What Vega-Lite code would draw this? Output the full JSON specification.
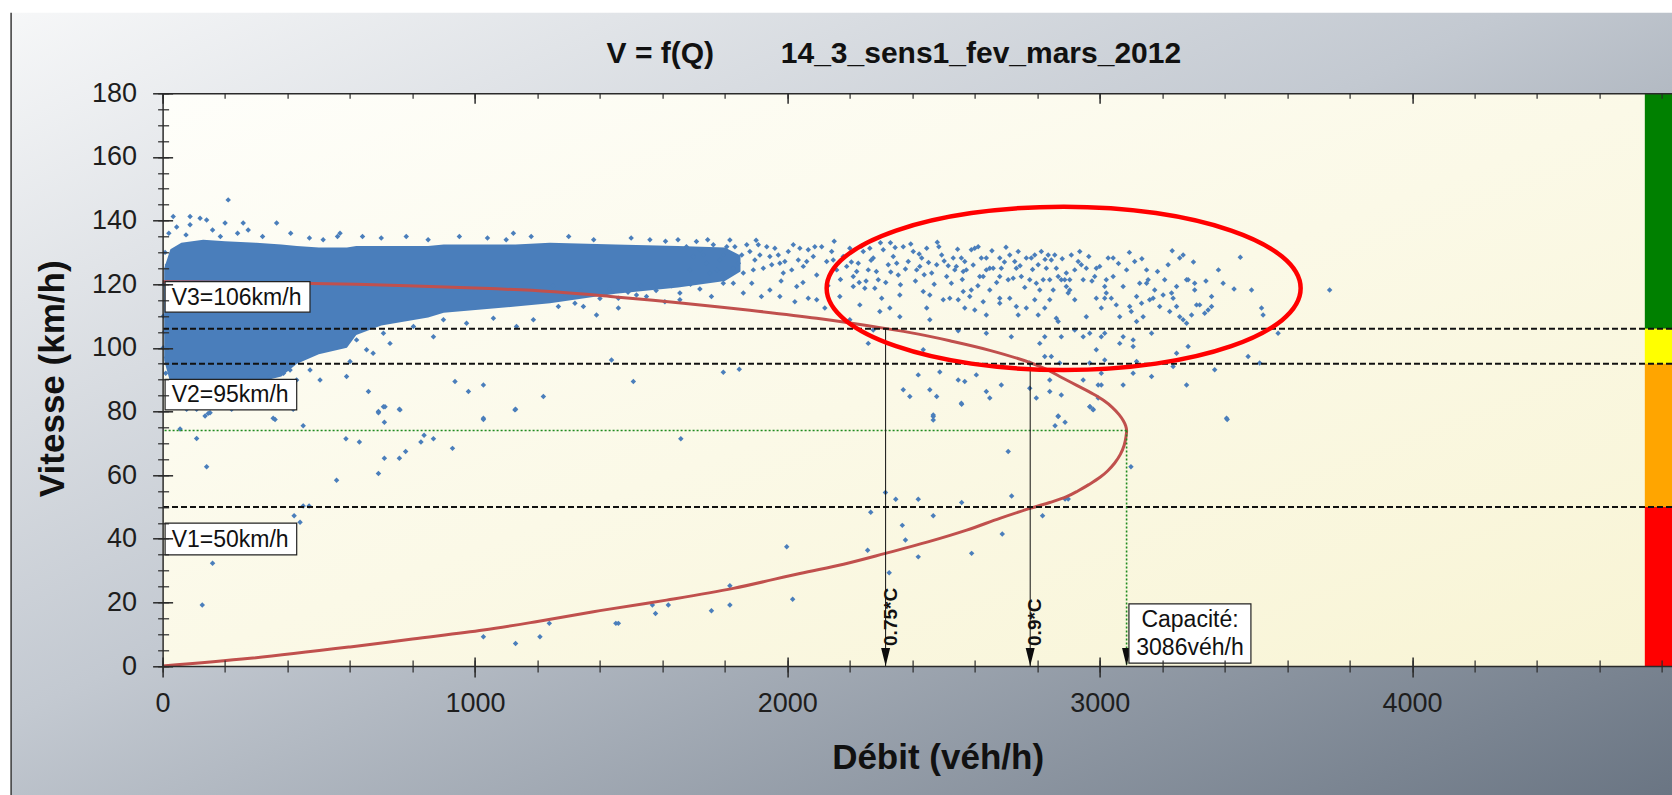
{
"$schema":"https://vega.github.io/schema/vega-lite/v6.json",
"width":1509.4,"height":572.7,
"autosize":{"type":"none"},
"padding":{"left":162.6,"top":93.3,"right":0,"bottom":129},
"config":{"background":"white","view":{"stroke":null},"font":"Liberation Sans",
"axis":{"zindex":1,"grid":false,"labelFont":"Liberation Sans","titleFont":"Liberation Sans","tickColor":"#2a2a2a","domainColor":"#2a2a2a","labelColor":"#1e1e1e","titleColor":"#111111","labelFlush":false,"labelOverlap":false}},
"resolve":{"axis":{"x":"independent","y":"independent"}},
"datasets":{
"core":[{"q":5,"lo":96,"hi":125},{"q":25,"lo":89,"hi":131},{"q":60,"lo":88,"hi":133},{"q":130,"lo":88,"hi":134},{"q":200,"lo":89,"hi":133.5},{"q":300,"lo":89,"hi":133},{"q":380,"lo":91,"hi":132.5},{"q":430,"lo":95,"hi":132},{"q":500,"lo":98,"hi":131.5},{"q":590,"lo":100,"hi":131.5},{"q":620,"lo":104,"hi":132},{"q":700,"lo":107,"hi":132},{"q":850,"lo":109.5,"hi":132},{"q":900,"lo":111,"hi":132.5},{"q":1130,"lo":113,"hi":132.5},{"q":1240,"lo":114,"hi":133},{"q":1450,"lo":117,"hi":132.5},{"q":1650,"lo":119,"hi":132},{"q":1800,"lo":121,"hi":131.5},{"q":1850,"lo":124,"hi":129}],
"pts":[
{"q":2,"v":100},{"q":3,"v":110},{"q":5,"v":120},{"q":8,"v":130},{"q":10,"v":92},{"q":12,"v":97},{"q":15,"v":126},{"q":6,"v":105},
{"q":20,"v":136},{"q":45,"v":138},{"q":75,"v":135.5},{"q":160,"v":137},{"q":185,"v":135},{"q":240,"v":136},{"q":320,"v":135},{"q":410,"v":136},{"q":470,"v":134.5},{"q":560,"v":135},{"q":640,"v":135},{"q":700,"v":134.5},{"q":780,"v":135},{"q":850,"v":134},{"q":950,"v":135},{"q":1040,"v":134.5},{"q":1100,"v":134},{"q":1180,"v":135},{"q":1300,"v":135},{"q":1380,"v":134},{"q":1500,"v":134.5},{"q":1560,"v":134},{"q":1650,"v":134},
{"q":40,"v":89.9},{"q":77,"v":88.9},{"q":109,"v":90.4},{"q":173,"v":89.4},{"q":237,"v":89.9},{"q":280,"v":90.4},{"q":312,"v":88.9},{"q":344,"v":91},{"q":387,"v":92},{"q":408,"v":93},
{"q":899,"v":108.8},{"q":973,"v":107.7},{"q":1059,"v":109.3},{"q":1133,"v":106.7},{"q":1187,"v":108.8},{"q":803,"v":106.7},{"q":707,"v":104.6},{"q":621,"v":102.5},
{"q":504,"v":89.9},{"q":589,"v":91},{"q":659,"v":86.3},{"q":707,"v":81.5},{"q":691,"v":80},{"q":760,"v":80.5},{"q":936,"v":89.4},{"q":979,"v":86.3},{"q":1027,"v":88.3},{"q":1128,"v":80.5},{"q":1219,"v":84.7},{"q":1027,"v":77.9},{"q":354,"v":77.9},{"q":146,"v":79.4},{"q":1123,"v":136},{"q":210,"v":146.5},{"q":34,"v":141.3},{"q":88,"v":141.3},{"q":120,"v":140.7},{"q":141,"v":140.2},{"q":88,"v":138.7},{"q":200,"v":139.2},{"q":258,"v":139.2},{"q":365,"v":139.2},{"q":568,"v":136},{"q":274,"v":137},{"q":514,"v":134},{"q":867,"v":103.5},{"q":728,"v":101.4},{"q":653,"v":99.4},{"q":674,"v":98.3},{"q":600,"v":95.7},{"q":472,"v":93},{"q":429,"v":89.9},{"q":563,"v":107.7},
{"q":56,"v":74.5},{"q":109,"v":71.5},{"q":141,"v":62.6},{"q":136,"v":78.6},{"q":152,"v":79.6},{"q":77,"v":80.7},{"q":109,"v":80.7},{"q":221,"v":80.7},{"q":360,"v":77.5},{"q":418,"v":80.7},{"q":450,"v":75.5},{"q":160,"v":32.3},{"q":127,"v":19.2},{"q":421,"v":47.2},{"q":440,"v":45.2},{"q":450,"v":50.3},{"q":469,"v":50.3},{"q":557,"v":58.4},{"q":587,"v":71.4},{"q":630,"v":70.4},{"q":691,"v":79.6},{"q":712,"v":81.5},{"q":710,"v":76.6},{"q":758,"v":80.7},{"q":691,"v":60.5},{"q":710,"v":65.3},{"q":758,"v":65.3},{"q":778,"v":67.4},{"q":827,"v":70.4},{"q":837,"v":72.5},{"q":867,"v":71.4},{"q":928,"v":68.4},{"q":1027,"v":77.5},{"q":1130,"v":80.7},{"q":1027,"v":9.2},{"q":1130,"v":7.1},{"q":1208,"v":9.2},{"q":1238,"v":13.4},
{"q":1659,"v":71.4},{"q":1451,"v":13.4},{"q":1459,"v":13.4},{"q":1568,"v":19.2},{"q":1578,"v":16.5},{"q":1619,"v":19.2},{"q":1757,"v":17.4},{"q":1816,"v":25.2},{"q":1816,"v":19.2},{"q":1998,"v":37.5},{"q":2017,"v":21},{"q":2257,"v":36.4},{"q":2267,"v":48.3},{"q":2314,"v":54.5},{"q":2326,"v":29.3},{"q":2347,"v":52.4},{"q":2368,"v":44.2},{"q":2378,"v":39.6},{"q":2419,"v":52.4},{"q":2419,"v":34.3},{"q":2467,"v":47.2},{"q":2467,"v":78.4},{"q":2467,"v":77.3},{"q":2558,"v":82.3},{"q":2558,"v":51.4},{"q":2590,"v":35.4},{"q":2688,"v":41.5},{"q":2707,"v":67.4},{"q":2718,"v":53.4},{"q":2817,"v":47.2},
{"q":2969,"v":81.5},{"q":2979,"v":80.7},{"q":2867,"v":78.6},{"q":2857,"v":75.5},{"q":2889,"v":76.6},{"q":2889,"v":52.5},{"q":2899,"v":52.5},{"q":3100,"v":62.6},{"q":3408,"v":77.5},
{"q":2531,"v":128.2},{"q":2541,"v":125.6},{"q":2557,"v":128.2},{"q":2568,"v":127.1},{"q":2573,"v":124.5},{"q":2536,"v":124.5},{"q":2525,"v":120.3},{"q":2520,"v":115.6},{"q":2563,"v":124},{"q":2589,"v":130.8},{"q":2600,"v":131.3},{"q":2611,"v":131.8},{"q":2621,"v":128.2},{"q":2616,"v":122.4},{"q":2637,"v":128.2},{"q":2637,"v":124.5},{"q":2648,"v":125},{"q":2627,"v":122.4},{"q":2659,"v":125},{"q":2680,"v":128.2},{"q":2685,"v":125},{"q":2680,"v":122.4},{"q":2712,"v":129.2},{"q":2728,"v":127.1},{"q":2739,"v":130.3},{"q":2733,"v":125},{"q":2723,"v":121.9},{"q":2707,"v":121.4},{"q":2749,"v":122.4},{"q":2765,"v":128.2},{"q":2781,"v":128.2},{"q":2792,"v":129.2},{"q":2813,"v":130.3},{"q":2803,"v":126.1},{"q":2776,"v":121.4},{"q":2797,"v":120.3},{"q":2819,"v":121.4},{"q":2835,"v":129.2},{"q":2845,"v":127.6},{"q":2856,"v":129.2},{"q":2829,"v":125},{"q":2861,"v":125},{"q":2840,"v":121.4},{"q":2867,"v":122.4},{"q":2877,"v":121.4},{"q":2909,"v":129.2},{"q":2936,"v":130.3},{"q":2931,"v":127.1},{"q":2941,"v":126.1},{"q":2957,"v":125},{"q":2947,"v":121.4},{"q":2904,"v":121.4},{"q":2893,"v":123.5},{"q":2920,"v":124.5},{"q":2989,"v":125},{"q":3000,"v":125.6},{"q":3027,"v":128.2},{"q":3043,"v":128.2},{"q":3021,"v":121.4},{"q":3043,"v":122.4},{"q":3016,"v":119.3},{"q":2984,"v":122.4},{"q":3086,"v":124.5},{"q":3112,"v":127.1},{"q":3150,"v":124.5},{"q":3155,"v":121.4},{"q":3150,"v":120.3},{"q":3128,"v":120.3},{"q":3208,"v":121.4},{"q":3219,"v":126.1},{"q":3267,"v":129.2},{"q":3256,"v":128.2},{"q":3278,"v":121.4},{"q":3304,"v":120.3},{"q":3246,"v":119.3},{"q":3395,"v":120.3},{"q":3486,"v":118.2},{"q":3736,"v":118.2},
{"q":2563,"v":117.7},{"q":2589,"v":118.2},{"q":2584,"v":116.1},{"q":2547,"v":115.1},{"q":2568,"v":112.5},{"q":2600,"v":111.9},{"q":2627,"v":114.5},{"q":2637,"v":110.3},{"q":2648,"v":118.2},{"q":2680,"v":115.6},{"q":2680,"v":114},{"q":2712,"v":115.6},{"q":2733,"v":113},{"q":2739,"v":110.3},{"q":2765,"v":112.5},{"q":2792,"v":115.1},{"q":2803,"v":110.3},{"q":2808,"v":118.2},{"q":2824,"v":112.5},{"q":2840,"v":115.1},{"q":2851,"v":118.2},{"q":2861,"v":109.3},{"q":2867,"v":108.3},{"q":2888,"v":121.4},{"q":2893,"v":119.3},{"q":2899,"v":117.2},{"q":2920,"v":115.1},{"q":2904,"v":118.2},{"q":2957,"v":109.8},{"q":2989,"v":115.6},{"q":3005,"v":112.5},{"q":3016,"v":115.6},{"q":3021,"v":117.2},{"q":3037,"v":115.6},{"q":3053,"v":113.5},{"q":3064,"v":109.8},{"q":3075,"v":119.3},{"q":3096,"v":113},{"q":3101,"v":111.4},{"q":3118,"v":116.1},{"q":3134,"v":114},{"q":3139,"v":109.8},{"q":3118,"v":108.3},{"q":3160,"v":115.1},{"q":3171,"v":115.6},{"q":3176,"v":118.2},{"q":3192,"v":113},{"q":3203,"v":116.6},{"q":3224,"v":111.4},{"q":3230,"v":117.2},{"q":3235,"v":115.6},{"q":3246,"v":113},{"q":3256,"v":109.8},{"q":3267,"v":108.8},{"q":3278,"v":107.7},{"q":3283,"v":121.4},{"q":3294,"v":110.3},{"q":3304,"v":118.2},{"q":3310,"v":113.5},{"q":3320,"v":113.5},{"q":3336,"v":110.9},{"q":3347,"v":111.9},{"q":3358,"v":116.1},{"q":3358,"v":113},{"q":3518,"v":112.5},{"q":3523,"v":110.3},
{"q":2547,"v":105.4},{"q":2637,"v":104.6},{"q":2717,"v":103.5},{"q":2808,"v":101.4},{"q":2824,"v":103.5},{"q":2877,"v":103.5},{"q":2920,"v":105.6},{"q":2947,"v":103.5},{"q":2968,"v":104.6},{"q":3005,"v":103.5},{"q":3016,"v":104.6},{"q":3064,"v":101.4},{"q":3075,"v":103.5},{"q":3107,"v":102.5},{"q":3107,"v":100.4},{"q":3166,"v":104.6},{"q":3283,"v":100.4},{"q":2989,"v":99.4},{"q":3246,"v":98.3},{"q":3571,"v":104.6},
{"q":3475,"v":97.3},{"q":3512,"v":95.2},{"q":2776,"v":95.2},{"q":2824,"v":97.3},{"q":2845,"v":97.3},{"q":2872,"v":95.2},{"q":2968,"v":95.2},{"q":3016,"v":96.2},{"q":3005,"v":92},{"q":3107,"v":92},{"q":3118,"v":95.7},{"q":3166,"v":91},{"q":3235,"v":94.1},{"q":3278,"v":88.3},{"q":3368,"v":93.1},{"q":2547,"v":89.9},{"q":2568,"v":89.4},{"q":2605,"v":91.5},{"q":2637,"v":86.3},{"q":2648,"v":84.2},{"q":2685,"v":88.3},{"q":2557,"v":82.6},{"q":2776,"v":87.3},{"q":2797,"v":84.2},{"q":2840,"v":89.9},{"q":2840,"v":86.3},{"q":2877,"v":85.2},{"q":2947,"v":89.9},{"q":2995,"v":88.3},{"q":3005,"v":88.3},{"q":2995,"v":84.2},{"q":2968,"v":81.5},{"q":2979,"v":80.5},{"q":3075,"v":88.3},{"q":2867,"v":78.4},{"q":3406,"v":77.9},
{"q":1267,"v":113},{"q":1320,"v":114},{"q":1347,"v":113},{"q":1389,"v":110.3},{"q":1459,"v":112.5},{"q":1459,"v":115.6},{"q":1517,"v":116.6},{"q":1549,"v":116.1},{"q":1608,"v":114.5},{"q":1656,"v":117.2},{"q":1656,"v":115.1},{"q":1757,"v":116.1},{"q":1859,"v":117.2},{"q":1917,"v":116.1},{"q":1976,"v":116.1},{"q":2024,"v":114.5},{"q":2067,"v":115.6},{"q":2094,"v":115.1},{"q":2120,"v":112.5},{"q":2168,"v":116.1},{"q":1795,"v":120.3},{"q":1827,"v":120.3},{"q":1886,"v":120.3},{"q":1944,"v":118.2},{"q":2030,"v":119.3},{"q":1437,"v":96.2},{"q":1507,"v":89.4},{"q":1795,"v":92.3},{"q":1846,"v":93.3},{"q":2259,"v":101.4},{"q":2275,"v":105.6},{"q":2200,"v":108.8},{"q":2435,"v":99.4},{"q":2419,"v":91.5},{"q":2488,"v":92.4},{"q":2371,"v":86.8},{"q":2392,"v":84.7},{"q":2456,"v":86.8},{"q":2478,"v":84.7},{"q":2467,"v":78.9},{"q":2456,"v":108.8},{"q":2360,"v":109.8},{"q":2296,"v":111.4},{"q":2328,"v":112.5},{"q":2232,"v":113.5},{"q":2211,"v":119.3},{"q":2248,"v":118.7},{"q":2280,"v":118.7},{"q":2302,"v":115.6},{"q":2360,"v":116.6},{"q":2446,"v":112.5},{"q":2435,"v":117.7},{"q":2456,"v":116.6},{"q":2499,"v":115.1},
{"q":1677,"v":131.8},{"q":1699,"v":128.7},{"q":1720,"v":130.8},{"q":1741,"v":126.6},{"q":1763,"v":132.4},{"q":1774,"v":124.5},{"q":1795,"v":129.2},{"q":1816,"v":133.9},{"q":1832,"v":131.8},{"q":1843,"v":126.6},{"q":1859,"v":123.5},{"q":1880,"v":130.3},{"q":1896,"v":127.6},{"q":1907,"v":132.4},{"q":1923,"v":125},{"q":1944,"v":128.7},{"q":1960,"v":131.3},{"q":1976,"v":126.6},{"q":1987,"v":123.5},{"q":2003,"v":130.3},{"q":2019,"v":132.4},{"q":2035,"v":127.6},{"q":2051,"v":125.6},{"q":2067,"v":130.8},{"q":2083,"v":128.7},{"q":2094,"v":122.9},{"q":2110,"v":131.8},{"q":2126,"v":127.1},{"q":2142,"v":130.3},{"q":2158,"v":124.5},{"q":2179,"v":128.7},{"q":2200,"v":131.3},{"q":2211,"v":122.4},{"q":2227,"v":126.6},{"q":2243,"v":130.3},{"q":2259,"v":124.5},{"q":2275,"v":128.2},{"q":2291,"v":121.4},{"q":2307,"v":130.8},{"q":2323,"v":126.1},{"q":2339,"v":128.7},{"q":2355,"v":122.9},{"q":2371,"v":131.8},{"q":2387,"v":127.1},{"q":2403,"v":130.3},{"q":2414,"v":124.5},{"q":2430,"v":128.2},{"q":2446,"v":131.3},{"q":2462,"v":123.5},{"q":2478,"v":126.1},{"q":2494,"v":129.2},{"q":2510,"v":122.4},
{"q":1688,"v":124.5},{"q":1709,"v":133.4},{"q":1731,"v":129.2},{"q":1752,"v":123.5},{"q":1784,"v":127.6},{"q":1806,"v":131.8},{"q":1827,"v":125},{"q":1854,"v":129.2},{"q":1870,"v":132.4},{"q":1891,"v":124.5},{"q":1912,"v":129.2},{"q":1934,"v":131.8},{"q":1950,"v":126.1},{"q":1971,"v":129.2},{"q":1992,"v":127.1},{"q":2014,"v":124.5},{"q":2040,"v":131.3},{"q":2062,"v":127.1},{"q":2088,"v":131.8},{"q":2147,"v":127.6},{"q":2190,"v":125.6},{"q":2264,"v":131.3},{"q":2350,"v":126.6},{"q":2424,"v":125.6},
{"q":1250,"v":119.5},{"q":1290,"v":116.5},{"q":1340,"v":118},{"q":1400,"v":115.5},{"q":1430,"v":118.5},{"q":1490,"v":117.5},{"q":1530,"v":119.5},{"q":1580,"v":118},{"q":1630,"v":119.5},{"q":1690,"v":120},{"q":1720,"v":118.5},{"q":1980,"v":121},{"q":2050,"v":120.5},{"q":2130,"v":119.5},{"q":2170,"v":121.5},{"q":2230,"v":120.5},{"q":1610,"v":133.5},{"q":1745,"v":134},{"q":1900,"v":133.8},{"q":2150,"v":133.5},{"q":2330,"v":133},{"q":2480,"v":133.2},
{"q":2205,"v":127},{"q":2222,"v":124},{"q":2238,"v":132},{"q":2252,"v":121},{"q":2268,"v":127.5},{"q":2285,"v":124},{"q":2298,"v":133},{"q":2315,"v":120.5},{"q":2331,"v":123.8},{"q":2345,"v":131.5},{"q":2362,"v":119.8},{"q":2378,"v":124.8},{"q":2395,"v":132.6},{"q":2410,"v":121},{"q":2422,"v":129.5},{"q":2438,"v":123},{"q":2452,"v":126.8},{"q":2470,"v":120},{"q":2485,"v":131.8},{"q":2502,"v":127.3},{"q":2515,"v":125.8},{"q":2545,"v":131},{"q":2560,"v":121.5},{"q":2595,"v":126},{"q":2610,"v":119.5},{"q":2655,"v":130.5},{"q":2670,"v":120.5},{"q":2695,"v":127},{"q":2700,"v":131.6},{"q":2745,"v":125.8},{"q":2760,"v":119},{"q":2785,"v":124.6},{"q":2825,"v":127.8},{"q":2880,"v":128},{"q":2965,"v":128.7},{"q":2975,"v":121},{"q":3060,"v":126.5},{"q":3095,"v":130},{"q":3135,"v":128},{"q":3185,"v":124},{"q":3232,"v":130.5},{"q":3300,"v":127},{"q":3340,"v":121},{"q":3380,"v":124.5},{"q":3430,"v":118.5},{"q":3450,"v":128.5}],
"curve":[{"i":1,"q":0,"v":120.8},{"i":2,"q":300,"v":120.5},{"i":3,"q":621,"v":120},{"i":4,"q":1000,"v":118.8},{"i":5,"q":1240,"v":117.7},{"i":6,"q":1450,"v":116},{"i":7,"q":1667,"v":114},{"i":8,"q":1880,"v":111.8},{"i":9,"q":2094,"v":109.3},{"i":10,"q":2307,"v":106.2},{"i":11,"q":2420,"v":104.3},{"i":12,"q":2520,"v":102.2},{"i":13,"q":2648,"v":99.2},{"i":14,"q":2776,"v":95.4},{"i":15,"q":2830,"v":93.2},{"i":16,"q":2872,"v":91},{"i":17,"q":2925,"v":88.3},{"i":18,"q":2979,"v":85.5},{"i":19,"q":3012,"v":83.5},{"i":20,"q":3040,"v":81.3},{"i":21,"q":3062,"v":79},{"i":22,"q":3076,"v":77},{"i":23,"q":3083,"v":75.5},{"i":24,"q":3086,"v":74},{"i":25,"q":3084,"v":72},{"i":26,"q":3078,"v":69.3},{"i":27,"q":3066,"v":66.5},{"i":28,"q":3048,"v":63.8},{"i":29,"q":3025,"v":61.3},{"i":30,"q":3001,"v":59.3},{"i":31,"q":2965,"v":57},{"i":32,"q":2930,"v":55},{"i":33,"q":2894,"v":53.2},{"i":34,"q":2840,"v":51.4},{"i":35,"q":2779,"v":49.6},{"i":36,"q":2680,"v":46.4},{"i":37,"q":2574,"v":42.7},{"i":38,"q":2450,"v":39},{"i":39,"q":2314,"v":35.4},{"i":40,"q":2180,"v":32},{"i":41,"q":2040,"v":29.1},{"i":42,"q":1827,"v":24.4},{"i":43,"q":1613,"v":20.7},{"i":44,"q":1400,"v":17.4},{"i":45,"q":1200,"v":14},{"i":46,"q":1027,"v":11.3},{"i":47,"q":800,"v":8.5},{"i":48,"q":600,"v":6},{"i":49,"q":280,"v":2.4},{"i":50,"q":0,"v":0}],
"hl":[{"v":106},{"v":95},{"v":50}],
"cap":[{"q":3086,"v":74}],
"cuts":[{"q":2314.5,"v":106,"lab":"0.75*C"},{"q":2777.4,"v":95,"lab":"0.9*C"}],
"arrows":[{"q":2314.5},{"q":2777.4},{"q":3086}],
"bar":[{"zone":"fluide","lo":106,"hi":180},{"zone":"dense","lo":95,"hi":106},{"zone":"chargé","lo":50,"hi":95},{"zone":"saturé","lo":0,"hi":50}],
"tags":[{"t":"V3=106km/h","q1":8,"q2":471.8,"v1":111.2,"v2":120.8,"tq":29,"tv":113.5},{"t":"V2=95km/h","q1":8,"q2":429.3,"v1":80.5,"v2":90.1,"tq":29,"tv":83.1},{"t":"V1=50km/h","q1":8,"q2":429.3,"v1":34.9,"v2":44.9,"tq":29,"tv":37.5}],
"capbox":[{"t":"Capacité:\n3086véh/h","q1":3093.5,"q2":3484,"v1":0.9,"v2":19.5,"tq":3289,"tv":12.35}]
},
"layer":[
{"data":{"values":[{}]},"mark":{"type":"rect","clip":false,"fill":{"gradient":"linear","x1":0,"y1":0,"x2":1,"y2":1,"stops":[{"offset":0,"color":"#f6f7f8"},{"offset":0.45,"color":"#c3c9d1"},{"offset":1,"color":"#6a7583"}]}},
 "encoding":{"x":{"datum":-485,"type":"quantitative","scale":{"domain":[0,4832],"nice":false,"zero":false},"axis":null},"x2":{"datum":4832},"y":{"datum":-40.6,"type":"quantitative","scale":{"domain":[0,180],"nice":false,"zero":false},"axis":null},"y2":{"datum":205.3}}},
{"data":{"values":[{}]},"mark":{"type":"rule","clip":false,"color":"#3a3a3a","strokeWidth":1.5},
 "encoding":{"x":{"datum":-485,"type":"quantitative","scale":{"domain":[0,4832],"nice":false,"zero":false},"axis":null},"y":{"datum":-40.6,"type":"quantitative","scale":{"domain":[0,180],"nice":false,"zero":false},"axis":null},"y2":{"datum":205.3}}},
{"data":{"values":[{}]},"mark":{"type":"rect","clip":false,"fill":{"gradient":"linear","x1":0,"y1":0,"x2":1,"y2":1,"stops":[{"offset":0,"color":"#fefefa"},{"offset":1,"color":"#f8f4d4"}]}},
 "encoding":{"x":{"datum":0,"type":"quantitative","scale":{"domain":[0,4832],"nice":false,"zero":false},"axis":null},"x2":{"datum":4832},"y":{"datum":0,"type":"quantitative","scale":{"domain":[0,180],"nice":false,"zero":false},"axis":null},"y2":{"datum":180}}},
{"data":{"name":"core"},"mark":{"type":"area","orient":"vertical","color":"#4a7ebb","opacity":1},
 "encoding":{"x":{"field":"q","type":"quantitative","scale":{"domain":[0,4832],"nice":false,"zero":false},
   "axis":{"orient":"bottom","zindex":2,"values":[0,1000,2000,3000,4000],"format":"d","ticks":false,"domain":true,"domainWidth":1.5,"labelFontSize":27,"labelPadding":24,"title":"Débit (véh/h)","titleFontSize":35,"titleFontWeight":"bold","titleX":775,"titleY":102,"titleBaseline":"alphabetic","titleAlign":"center"}},
  "y":{"field":"lo","type":"quantitative","scale":{"domain":[0,180],"nice":false,"zero":false},
   "axis":{"orient":"left","zindex":2,"values":[0,20,40,60,80,100,120,140,160,180],"format":"d","ticks":false,"domain":true,"domainWidth":1.5,"labelFontSize":27,"labelPadding":26,"title":"Vitesse (km/h)","titleFontSize":35,"titleFontWeight":"bold","titleAngle":270,"titleX":-99.5,"titleY":285,"titleBaseline":"alphabetic","titleAlign":"center"}},
  "y2":{"field":"hi"}}},
{"data":{"name":"pts"},"mark":{"type":"point","shape":"diamond","filled":true,"size":30,"color":"#4a7ebb","opacity":1},
 "encoding":{"x":{"field":"q","type":"quantitative","scale":{"domain":[0,4832],"nice":false,"zero":false},
   "axis":{"orient":"bottom","zindex":2,"values":[0,1000,2000,3000,4000],"labels":false,"domain":false,"tickSize":20,"offset":-9,"tickWidth":1.5,"title":null}},
  "y":{"field":"v","type":"quantitative","scale":{"domain":[0,180],"nice":false,"zero":false},
   "axis":{"orient":"left","zindex":2,"values":[0,20,40,60,80,100,120,140,160,180],"labels":false,"domain":false,"tickSize":20,"offset":-10,"tickWidth":1.5,"title":null}}}},
{"data":{"name":"bar"},"mark":{"type":"rect"},
 "encoding":{"x":{"datum":4745,"type":"quantitative","scale":{"domain":[0,4832],"nice":false,"zero":false},"axis":null},"x2":{"datum":4832},
  "y":{"field":"lo","type":"quantitative","scale":{"domain":[0,180],"nice":false,"zero":false},"axis":null},"y2":{"field":"hi"},
  "color":{"field":"zone","type":"nominal","scale":{"domain":["fluide","dense","chargé","saturé"],"range":["#008000","#ffff00","#ffa500","#ff0000"]},"legend":null}}},
{"data":{"name":"curve"},"mark":{"type":"line","color":"#c0504d","strokeWidth":3,"interpolate":"catmull-rom"},
 "encoding":{"x":{"field":"q","type":"quantitative","scale":{"domain":[0,4832],"nice":false,"zero":false},
   "axis":{"orient":"bottom","zindex":2,"values":[0,200,400,600,800,1000,1200,1400,1600,1800,2000,2200,2400,2600,2800,3000,3200,3400,3600,3800,4000,4200,4400,4600,4800],"labels":false,"domain":false,"tickSize":12,"offset":-6,"tickWidth":1.2,"title":null}},
  "y":{"field":"v","type":"quantitative","scale":{"domain":[0,180],"nice":false,"zero":false},
   "axis":{"orient":"left","zindex":2,"values":[0,5,10,15,20,25,30,35,40,45,50,55,60,65,70,75,80,85,90,95,100,105,110,115,120,125,130,135,140,145,150,155,160,165,170,175,180],"labels":false,"domain":false,"tickSize":11,"offset":-6,"tickWidth":1.2,"title":null}},
  "order":{"field":"i","type":"quantitative"}}},
{"data":{"name":"hl"},"mark":{"type":"rule","color":"#111111","strokeWidth":2,"strokeDash":[6,3]},
 "encoding":{"y":{"field":"v","type":"quantitative","scale":{"domain":[0,180],"nice":false,"zero":false},"axis":null}}},
{"data":{"name":"cap"},"mark":{"type":"rule","color":"#1e8a1e","strokeWidth":1.6,"strokeDash":[2,2]},
 "encoding":{"x":{"field":"q","type":"quantitative","scale":{"domain":[0,4832],"nice":false,"zero":false},"axis":null},"x2":{"datum":0},
  "y":{"field":"v","type":"quantitative","scale":{"domain":[0,180],"nice":false,"zero":false},"axis":null}}},
{"data":{"name":"cap"},"mark":{"type":"rule","color":"#1e8a1e","strokeWidth":1.6,"strokeDash":[2,2]},
 "encoding":{"x":{"field":"q","type":"quantitative","scale":{"domain":[0,4832],"nice":false,"zero":false},"axis":null},
  "y":{"field":"v","type":"quantitative","scale":{"domain":[0,180],"nice":false,"zero":false},"axis":null},"y2":{"datum":0}}},
{"data":{"name":"cuts"},"mark":{"type":"rule","color":"#111111","strokeWidth":1},
 "encoding":{"x":{"field":"q","type":"quantitative","scale":{"domain":[0,4832],"nice":false,"zero":false},
   "axis":{"orient":"top","zindex":2,"values":[0,1000,2000,3000,4000],"labels":false,"domain":true,"domainWidth":1.5,"tickSize":-10,"tickWidth":1.5,"title":null}},
  "y":{"field":"v","type":"quantitative","scale":{"domain":[0,180],"nice":false,"zero":false},"axis":null},"y2":{"datum":0}}},
{"data":{"name":"arrows"},"mark":{"type":"point","shape":"M-0.5,-1L0.5,-1L0,1Z","size":324,"filled":true,"color":"#0d0d0d","opacity":1},
 "encoding":{"x":{"field":"q","type":"quantitative","scale":{"domain":[0,4832],"nice":false,"zero":false},
   "axis":{"orient":"top","zindex":2,"values":[0,200,400,600,800,1000,1200,1400,1600,1800,2000,2200,2400,2600,2800,3000,3200,3400,3600,3800,4000,4200,4400,4600,4800],"labels":false,"domain":false,"tickSize":-5,"tickWidth":1.2,"title":null}},
  "y":{"datum":2.83,"type":"quantitative","scale":{"domain":[0,180],"nice":false,"zero":false},"axis":null}}},
{"data":{"name":"cuts"},"mark":{"type":"text","angle":270,"align":"left","baseline":"top","dy":-4,"font":"Liberation Sans","fontSize":19,"fontWeight":"bold","color":"#111111"},
 "encoding":{"x":{"field":"q","type":"quantitative","scale":{"domain":[0,4832],"nice":false,"zero":false},"axis":null},
  "y":{"datum":6.3,"type":"quantitative","scale":{"domain":[0,180],"nice":false,"zero":false},"axis":null},
  "text":{"field":"lab"}}},
{"data":{"values":[{}]},"mark":{"type":"point","shape":"M1,0C1,0.1904 0.5523,0.3447 0,0.3447C-0.5523,0.3447 -1,0.1904 -1,0C-1,-0.1904 -0.5523,-0.3447 0,-0.3447C0.5523,-0.3447 1,-0.1904 1,0Z","size":224676,"filled":false,"stroke":"#ff0000","strokeWidth":4.5,"opacity":1},
 "encoding":{"x":{"datum":2884.5,"type":"quantitative","scale":{"domain":[0,4832],"nice":false,"zero":false},"axis":null},
  "y":{"datum":118.7,"type":"quantitative","scale":{"domain":[0,180],"nice":false,"zero":false},"axis":null}}},
{"data":{"name":"tags"},"mark":{"type":"rect","fill":"#ffffff","stroke":"#222222","strokeWidth":1.2},
 "encoding":{"x":{"field":"q1","type":"quantitative","scale":{"domain":[0,4832],"nice":false,"zero":false},"axis":null},"x2":{"field":"q2"},
  "y":{"field":"v1","type":"quantitative","scale":{"domain":[0,180],"nice":false,"zero":false},"axis":null},"y2":{"field":"v2"}}},
{"data":{"name":"tags"},"mark":{"type":"text","align":"left","baseline":"alphabetic","font":"Liberation Sans","fontSize":23,"color":"#111111"},
 "encoding":{"x":{"field":"tq","type":"quantitative","scale":{"domain":[0,4832],"nice":false,"zero":false},"axis":null},
  "y":{"field":"tv","type":"quantitative","scale":{"domain":[0,180],"nice":false,"zero":false},"axis":null},
  "text":{"field":"t"}}},
{"data":{"name":"capbox"},"mark":{"type":"rect","fill":"#ffffff","stroke":"#222222","strokeWidth":1.2},
 "encoding":{"x":{"field":"q1","type":"quantitative","scale":{"domain":[0,4832],"nice":false,"zero":false},"axis":null},"x2":{"field":"q2"},
  "y":{"field":"v1","type":"quantitative","scale":{"domain":[0,180],"nice":false,"zero":false},"axis":null},"y2":{"field":"v2"}}},
{"data":{"name":"capbox"},"mark":{"type":"text","align":"center","baseline":"alphabetic","lineBreak":"\n","lineHeight":28,"font":"Liberation Sans","fontSize":23,"color":"#111111"},
 "encoding":{"x":{"field":"tq","type":"quantitative","scale":{"domain":[0,4832],"nice":false,"zero":false},"axis":null},
  "y":{"field":"tv","type":"quantitative","scale":{"domain":[0,180],"nice":false,"zero":false},"axis":null},
  "text":{"field":"t"}}},
{"data":{"values":[{"title":"V = f(Q)\u00a0\u00a0\u00a0\u00a0\u00a0\u00a0\u00a0\u00a014_3_sens1_fev_mars_2012"}]},"mark":{"type":"text","clip":false,"align":"center","baseline":"alphabetic","font":"Liberation Sans","fontSize":30,"fontWeight":"bold","color":"#111111"},
 "encoding":{"x":{"datum":2341,"type":"quantitative","scale":{"domain":[0,4832],"nice":false,"zero":false},"axis":null},
  "y":{"datum":189.5,"type":"quantitative","scale":{"domain":[0,180],"nice":false,"zero":false},"axis":null},
  "text":{"field":"title"}}}
]
}
